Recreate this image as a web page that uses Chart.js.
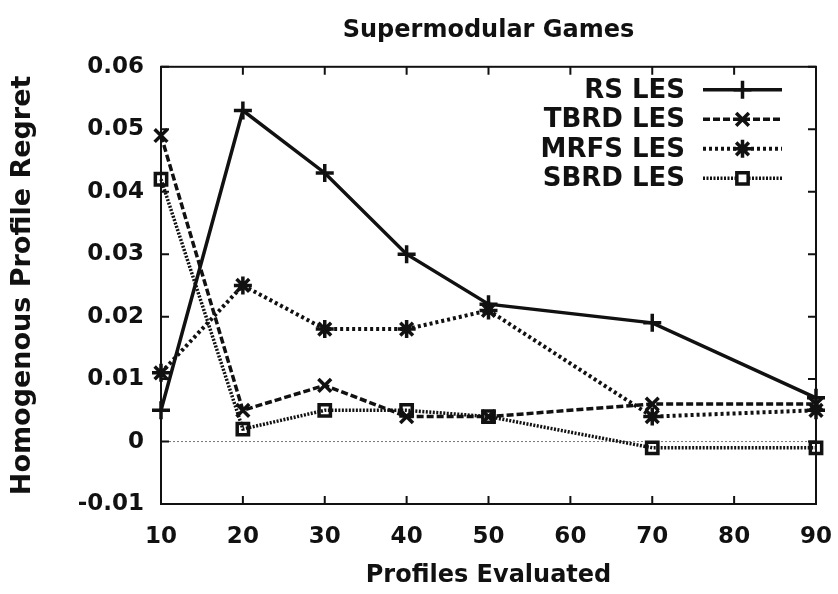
<!DOCTYPE html>
<html>
<head>
<meta charset="utf-8">
<script src="https://cdn.jsdelivr.net/npm/chart.js@4.4.1/dist/chart.umd.min.js"></script>
<style>
  html, body { margin: 0; padding: 0; background: #fff; }
  #wrap { width: 838px; height: 594px; }
</style>
</head>
<body>
<div id="wrap"><canvas id="chart"></canvas></div>
<script>
// Data
const profiles = [10, 20, 30, 40, 50, 70, 90];
const rsLes   = [0.005, 0.053, 0.043, 0.030, 0.022, 0.019, 0.007];
const tbrdLes = [0.049, 0.005, 0.009, 0.004, 0.004, 0.006, 0.006];
const mrfsLes = [0.011, 0.025, 0.018, 0.018, 0.021, 0.004, 0.005];
const sbrdLes = [0.042, 0.002, 0.005, 0.005, 0.004, -0.001, -0.001];
const seriesNames = ['RS LES', 'TBRD LES', 'MRFS LES', 'SBRD LES'];
const yTicks = [-0.01, 0, 0.01, 0.02, 0.03, 0.04, 0.05, 0.06];
const xTicks = [10, 20, 30, 40, 50, 60, 70, 80, 90];

const FONT = '"DejaVu Sans", sans-serif';

function points(values) {
    return profiles.map((p, i) => ({ x: p, y: values[i] }));
}

const styles = [
    { dash: [],       width: 3.5, point: 'cross',    radius: 9 },
    { dash: [7, 3],   width: 3.5, point: 'crossRot', radius: 9 },
    { dash: [3, 3],   width: 4,   point: 'star',     radius: 9 },
    { dash: [2, 1.5], width: 3.5, point: 'rect',     radius: 8 }
];

const seriesValues = [rsLes, tbrdLes, mrfsLes, sbrdLes];

const datasets = seriesValues.map((vals, i) => ({
    label: seriesNames[i],
    data: points(vals),
    borderColor: '#111',
    backgroundColor: 'rgba(0,0,0,0)',
    borderWidth: styles[i].width,
    borderDash: styles[i].dash,
    pointStyle: styles[i].point,
    pointRadius: styles[i].radius,
    pointBorderWidth: 3.5,
    pointBorderColor: '#111',
    pointBackgroundColor: 'rgba(0,0,0,0)',
    tension: 0,
    clip: false
}));

// frame, inward ticks, zero line and the gnuplot style legend
const gnuplotFrame = {
    id: 'gnuplotFrame',
    beforeDatasetsDraw(chart) {
        const { ctx, chartArea: a, scales: { y } } = chart;
        const y0 = y.getPixelForValue(0);
        ctx.save();
        ctx.strokeStyle = '#777';
        ctx.lineWidth = 1;
        ctx.setLineDash([2, 2]);
        ctx.beginPath();
        ctx.moveTo(a.left, y0);
        ctx.lineTo(a.right, y0);
        ctx.stroke();
        ctx.restore();
    },
    afterDraw(chart) {
        const { ctx, chartArea: a, scales: { x, y } } = chart;
        ctx.save();
        ctx.strokeStyle = '#111';
        ctx.lineWidth = 2;
        ctx.strokeRect(a.left, a.top, a.right - a.left, a.bottom - a.top);
        const len = 8;
        ctx.beginPath();
        xTicks.forEach(v => {
            const px = x.getPixelForValue(v);
            ctx.moveTo(px, a.bottom); ctx.lineTo(px, a.bottom - len);
            ctx.moveTo(px, a.top); ctx.lineTo(px, a.top + len);
        });
        yTicks.forEach(v => {
            const py = y.getPixelForValue(v);
            ctx.moveTo(a.left, py); ctx.lineTo(a.left + len, py);
            ctx.moveTo(a.right, py); ctx.lineTo(a.right - len, py);
        });
        ctx.stroke();

        // legend
        const lineEnd = a.right - 34;
        const lineStart = lineEnd - 79;
        const textRight = lineStart - 18;
        ctx.font = 'bold 26px ' + FONT;
        ctx.textAlign = 'right';
        ctx.textBaseline = 'middle';
        chart.data.datasets.forEach((ds, i) => {
            const ry = a.top + 23 + i * 29.5;
            ctx.fillStyle = '#111';
            ctx.fillText(ds.label, textRight, ry + 1);
            ctx.save();
            ctx.strokeStyle = '#111';
            ctx.lineWidth = ds.borderWidth;
            ctx.setLineDash(ds.borderDash);
            ctx.beginPath();
            ctx.moveTo(lineStart, ry);
            ctx.lineTo(lineEnd, ry);
            ctx.stroke();
            ctx.restore();
            ctx.save();
            ctx.strokeStyle = '#111';
            ctx.fillStyle = '#fff';
            ctx.lineWidth = ds.pointBorderWidth;
            ctx.setLineDash([]);
            Chart.helpers.drawPoint(ctx, {
                pointStyle: ds.pointStyle,
                radius: ds.pointRadius,
                rotation: 0,
                borderWidth: ds.pointBorderWidth
            }, (lineStart + lineEnd) / 2, ry);
            ctx.restore();
        });
        ctx.restore();
    }
};

new Chart(document.getElementById('chart'), {
    type: 'line',
    data: { datasets: datasets },
    options: {
        responsive: true,
        maintainAspectRatio: false,
        animation: false,
        layout: { padding: { left: 0, right: 22, top: 0, bottom: 0 } },
        plugins: {
            legend: { display: false },
            tooltip: { enabled: false },
            title: {
                display: true,
                text: 'Supermodular Games',
                fullSize: false,
                color: '#111',
                font: { family: FONT, size: 24, weight: 'bold' },
                padding: { top: 16, bottom: 22 }
            }
        },
        scales: {
            x: {
                type: 'linear',
                min: 10,
                max: 90,
                grid: { display: false, drawTicks: false },
                border: { display: false },
                ticks: {
                    stepSize: 10,
                    padding: 19,
                    color: '#111',
                    font: { family: FONT, size: 23, weight: 'bold' }
                },
                title: {
                    display: true,
                    text: 'Profiles Evaluated',
                    color: '#111',
                    font: { family: FONT, size: 24, weight: 'bold' },
                    padding: { top: 0, bottom: 4 }
                },
                afterFit(scale) {
                    scale.height = 90;
                    scale.paddingLeft = 0;
                    scale.paddingRight = 0;
                }
            },
            y: {
                min: -0.01,
                max: 0.06,
                grid: { display: false, drawTicks: false },
                border: { display: false },
                ticks: {
                    stepSize: 0.01,
                    padding: 17,
                    color: '#111',
                    font: { family: FONT, size: 23, weight: 'bold' },
                    callback: v => Number(v.toFixed(2)).toString()
                },
                title: {
                    display: true,
                    text: 'Homogenous Profile Regret',
                    color: '#111',
                    font: { family: FONT, size: 27, weight: 'bold' },
                    padding: { top: 7, bottom: 0 }
                },
                afterFit(scale) {
                    scale.width = 161;
                    scale.paddingTop = 0;
                    scale.paddingBottom = 0;
                }
            }
        }
    },
    plugins: [gnuplotFrame]
});
</script>
</body>
</html>
